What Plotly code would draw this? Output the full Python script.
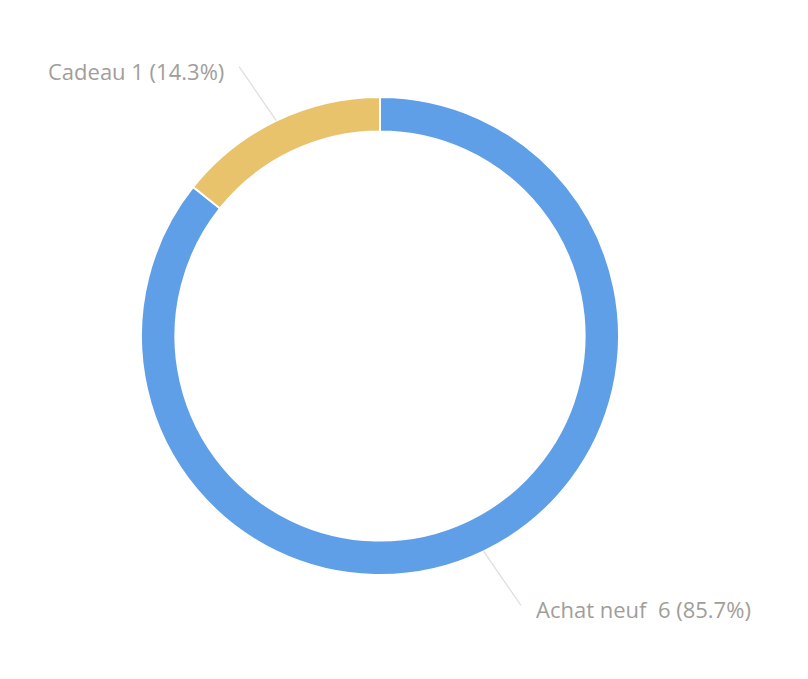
import math

import plotly.graph_objects as go

labels = ["Achat neuf", "Cadeau"]
values = [6, 1]
colors = ["#5f9fe7", "#e9c36b"]

W, H = 808, 679
OFF = 8  # page body margin pushes the plot down/right
CX, CY, R = 380 - OFF, 336 - OFF, 239  # pie centre / outer radius in pixels
HOLE = 0.856
LABEL_R = 304  # radius where the leader line ends

fig = go.Figure(
    go.Pie(
        labels=labels,
        values=values,
        hole=HOLE,
        sort=False,
        direction="clockwise",
        rotation=0,
        marker={"colors": colors, "line": {"color": "white", "width": 2}},
        textinfo="none",
        hoverinfo="label+value+percent",
        domain={
            "x": [(CX - R) / W, (CX + R) / W],
            "y": [(H - CY - R) / H, (H - CY + R) / H],
        },
        showlegend=False,
    )
)

# outside labels with leader lines, placed from slice mid-angles
total = sum(values)
start = 0.0
for lab, val in zip(labels, values):
    sweep = 360.0 * val / total
    mid = start + sweep / 2
    start += sweep
    a0, a1 = math.radians(mid), math.radians(mid - 1.9)
    x0, y0 = CX + R * math.sin(a0), CY - R * math.cos(a0)
    x1, y1 = CX + LABEL_R * math.sin(a1), CY - LABEL_R * math.cos(a1)
    fig.add_shape(
        type="line",
        xref="paper", yref="paper",
        x0=x0 / W, y0=1 - y0 / H, x1=x1 / W, y1=1 - y1 / H,
        line={"color": "#dfdfdf", "width": 1.3},
    )
    right = x1 >= CX
    pct = f"({100 * val / total:.1f}%)"
    fig.add_annotation(
        x=(x1 + (13 if right else -13)) / W,
        y=1 - (y1 + 4) / H,
        xref="paper", yref="paper",
        text=f"{lab}  {val} {pct}" if right else f"{lab} {val} {pct}",
        showarrow=False,
        xanchor="left" if right else "right",
        yanchor="middle",
        font={"family": "Open Sans, sans-serif", "size": 22, "color": "#a19e99"},
    )

fig.update_layout(
    width=W,
    height=H,
    margin={"l": 0, "r": 0, "t": 0, "b": 0},
    paper_bgcolor="white",
    plot_bgcolor="white",
)

fig.write_html("out.html")
